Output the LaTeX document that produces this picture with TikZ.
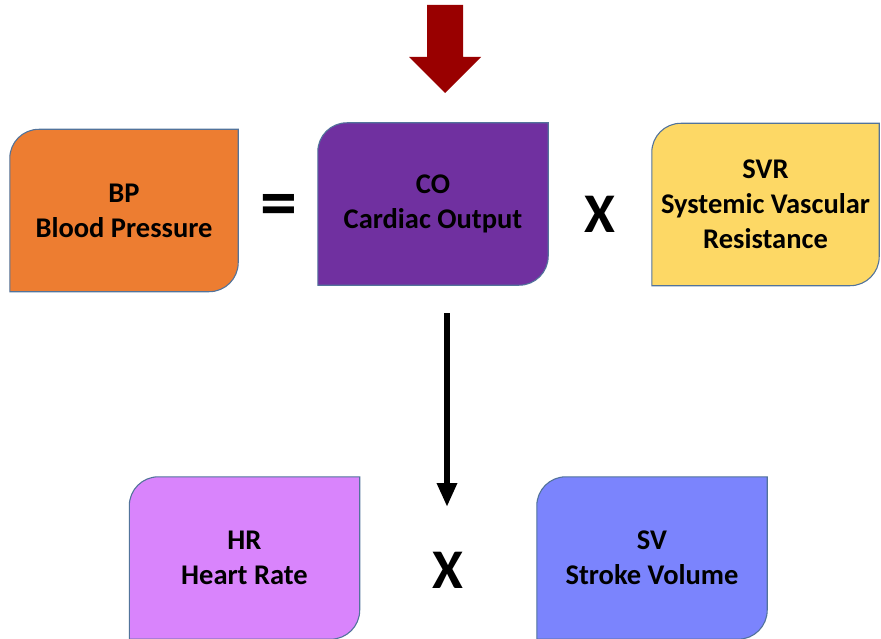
\documentclass[tikz,border=0pt]{standalone}
\usepackage{fontspec}
\setmainfont{Carlito}
\usetikzlibrary{arrows.meta,backgrounds}
\definecolor{bpcol}{HTML}{ED7D31}
\definecolor{cocol}{HTML}{7030A0}
\definecolor{svrcol}{HTML}{FDD865}
\definecolor{hrcol}{HTML}{D984FC}
\definecolor{svcol}{HTML}{7B84FD}
\definecolor{edgecol}{HTML}{52739B}
\definecolor{redarrow}{HTML}{990000}
\tikzset{
  box/.style={minimum width=#1, minimum height=162pt, inner sep=0pt, align=center,
     font=\fontsize{28.5}{35}\selectfont\bfseries, text=black},
  box/.default=230pt,
  op/.style={font=\fontsize{56}{56}\selectfont\bfseries, inner sep=0pt},
  shapeline/.style={draw=edgecol, line width=1.1pt},
  flow/.style={line width=6pt, -{Triangle[width=19pt,length=24pt]}}
}
\newcommand\snipshape[2]{%
  \path[shapeline, fill=#2] (#1.north east) -- ([xshift=29pt]#1.north west)
    arc[start angle=90, end angle=180, radius=29pt] -- (#1.south west)
    -- ([xshift=-29pt]#1.south east)
    arc[start angle=270, end angle=360, radius=29pt] -- cycle;}
\begin{document}
\begin{tikzpicture}[x=1pt,y=-1pt]
\useasboundingbox (0,0) rectangle (881,639);
\node[box=228pt] (bp) at (124,210.5) {BP\\Blood Pressure};
\node[box] (co) at (433,204) {CO\\Cardiac Output};
\node[box=227pt] (svr) at (765.5,204.5) {SVR\\Systemic Vascular\\Resistance};
\node[box] (hr) at (244.5,558) {HR\\Heart Rate};
\node[box] (sv) at (652,558) {SV\\Stroke Volume};
\node[op, font=\fontsize{74}{74}\selectfont\bfseries] (eq) at (279,211) {=};
\node[op] (x1) at (600,214) {X};
\node[op] (x2) at (448,570) {X};
\begin{scope}[on background layer]
\snipshape{bp}{bpcol}
\snipshape{co}{cocol}
\snipshape{svr}{svrcol}
\snipshape{hr}{hrcol}
\snipshape{sv}{svcol}
\end{scope}
\coordinate (top) at (447,313);
\coordinate (bot) at (447,507);
\draw[flow] (top) -- (bot);
\fill[redarrow] (427,5) -- (463,5) -- (463,57) -- (481,57) -- (445,93) -- (409,57) -- (427,57) -- cycle;
\end{tikzpicture}
\end{document}
